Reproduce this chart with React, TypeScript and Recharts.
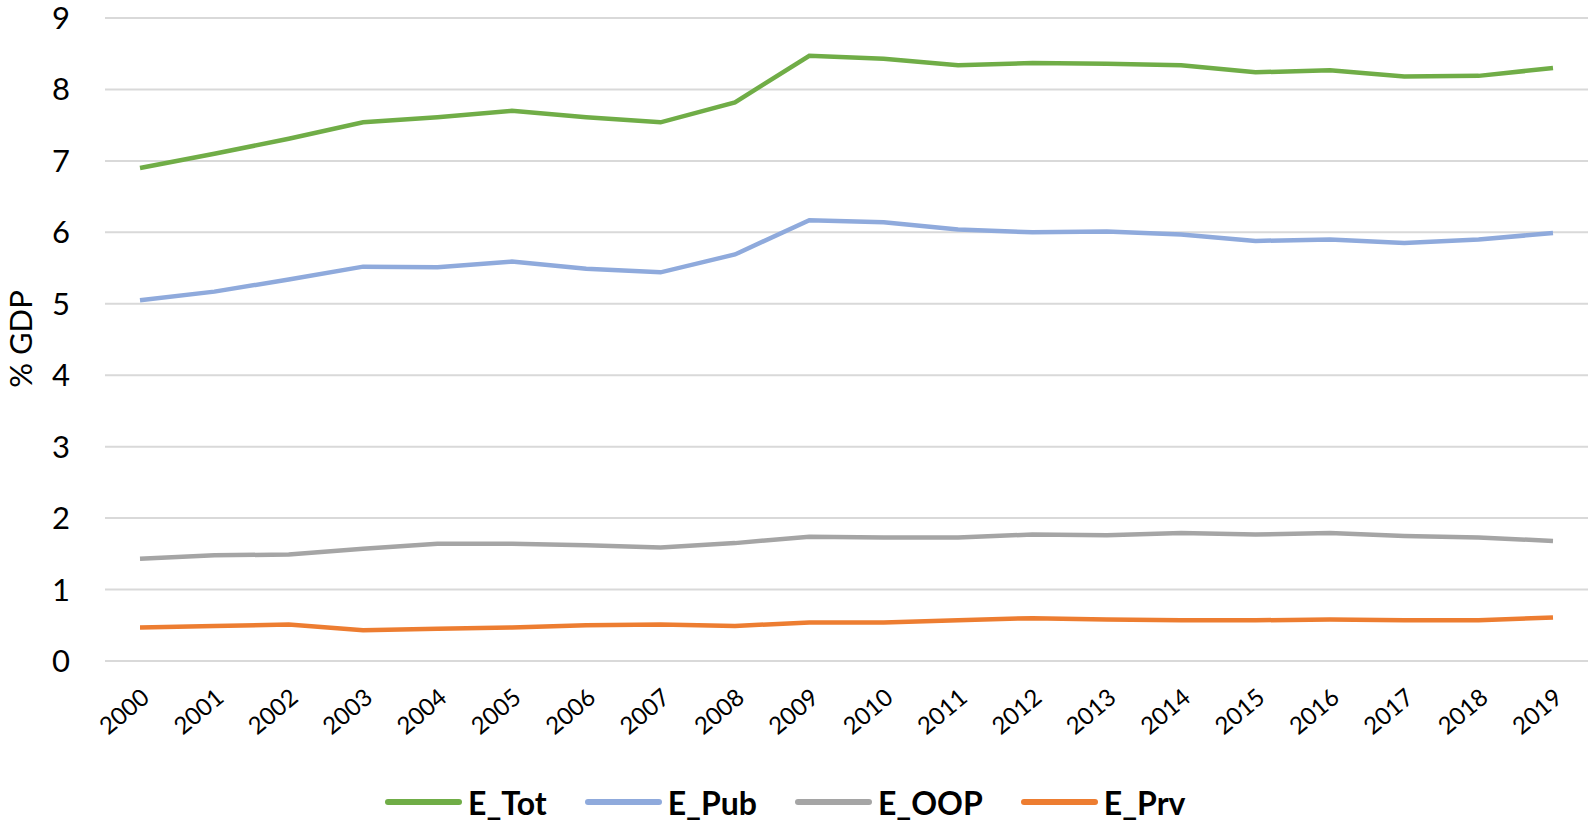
import { LineChart, Line, XAxis, YAxis, CartesianGrid } from "recharts";

const YEARS = [
  "2000", "2001", "2002", "2003", "2004", "2005", "2006", "2007", "2008", "2009",
  "2010", "2011", "2012", "2013", "2014", "2015", "2016", "2017", "2018", "2019",
];

const E_TOT = [6.9, 7.1, 7.31, 7.54, 7.61, 7.7, 7.61, 7.54, 7.82, 8.47, 8.43, 8.34, 8.37, 8.36, 8.34, 8.24, 8.27, 8.18, 8.19, 8.3];
const E_PUB = [5.05, 5.17, 5.34, 5.52, 5.51, 5.59, 5.49, 5.44, 5.69, 6.17, 6.14, 6.04, 6.0, 6.01, 5.97, 5.88, 5.9, 5.85, 5.9, 5.99];
const E_OOP = [1.43, 1.48, 1.49, 1.57, 1.64, 1.64, 1.62, 1.59, 1.65, 1.74, 1.73, 1.73, 1.77, 1.76, 1.79, 1.77, 1.79, 1.75, 1.73, 1.68];
const E_PRV = [0.47, 0.49, 0.51, 0.43, 0.45, 0.47, 0.5, 0.51, 0.49, 0.54, 0.54, 0.57, 0.6, 0.58, 0.57, 0.57, 0.58, 0.57, 0.57, 0.61];

const Y_TICKS = [0, 1, 2, 3, 4, 5, 6, 7, 8, 9];

const SERIES = [
  { key: "E_Tot", color: "#70AD47" },
  { key: "E_Pub", color: "#8FAADC" },
  { key: "E_OOP", color: "#A5A5A5" },
  { key: "E_Prv", color: "#ED7D31" },
];

const FONT = "Lato, 'Open Sans', sans-serif";

const data = YEARS.map((year, i) => ({
  year,
  E_Tot: E_TOT[i],
  E_Pub: E_PUB[i],
  E_OOP: E_OOP[i],
  E_Prv: E_PRV[i],
}));

// rotated y-axis title, placed by hand like the Excel original
const YTitle = () => (
  <text
    x={20}
    y={339}
    transform="rotate(-90, 20, 339)"
    textAnchor="middle"
    dominantBaseline="central"
    fill="#000"
    fontSize={31}
    fontFamily={FONT}
  >
    % GDP
  </text>
);

export default function App() {
  return (
    <div style={{ position: "absolute", left: 0, top: 0, width: 1595, height: 825, background: "#fff", fontFamily: FONT }}>
      <LineChart width={1595} height={825} data={data} margin={{ top: 18, right: 7, left: 0, bottom: 0 }}>
        <CartesianGrid vertical={false} stroke="#D9D9D9" strokeWidth={2} />
        <XAxis
          dataKey="year"
          axisLine={false}
          tickLine={false}
          interval={0}
          height={164}
          padding={{ left: 35, right: 35 }}
          tickMargin={20}
          tick={{ fill: "#000", fontSize: 24, fontFamily: FONT, angle: -40, textAnchor: "end" } as any}
        />
        <YAxis
          domain={[0, 9]}
          ticks={Y_TICKS}
          axisLine={false}
          tickLine={false}
          width={105}
          tickMargin={29}
          tick={{ fill: "#000", fontSize: 31, fontFamily: FONT }}
          label={<YTitle />}
        />
        {SERIES.map((s) => (
          <Line
            key={s.key}
            type="linear"
            dataKey={s.key}
            stroke={s.color}
            strokeWidth={4.5}
            dot={false}
            isAnimationActive={false}
          />
        ))}
      </LineChart>
      <div
        style={{
          position: "absolute",
          left: 385,
          top: 782,
          height: 40,
          display: "flex",
          alignItems: "center",
          gap: 38,
          fontSize: 32,
          fontWeight: 700,
          color: "#000",
        }}
      >
        {SERIES.map((s) => (
          <div key={s.key} style={{ display: "flex", alignItems: "center", gap: 6 }}>
            <span style={{ display: "inline-block", width: 77, height: 6, borderRadius: 3, background: s.color }} />
            <span>{s.key}</span>
          </div>
        ))}
      </div>
    </div>
  );
}
